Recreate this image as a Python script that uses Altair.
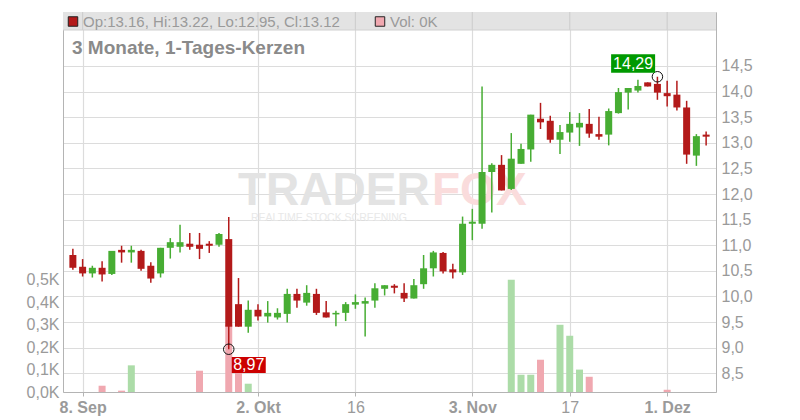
import altair as alt
import pandas as pd

# ---------------- data ----------------
opens = [10.81, 10.58, 10.45, 10.56, 10.44, 10.91, 10.86, 10.89, 10.60, 10.45,
         10.95, 10.97, 11.03, 11.01, 11.03, 11.01, 11.12, 9.85, 9.41, 9.74,
         9.61, 9.59, 9.66, 10.05, 9.88, 10.05, 9.69, 9.65, 9.68, 9.84,
         9.86, 9.92, 10.15, 10.21, 10.07, 9.96, 10.24, 10.55, 10.85, 10.53,
         10.47, 11.42, 11.42, 12.43, 12.57, 12.10, 12.59, 12.87, 13.47, 13.43,
         13.06, 13.20, 13.30, 13.37, 13.17, 13.16, 13.58, 13.98, 14.02, 14.18,
         14.15, 13.97, 13.94, 13.69, 12.75, 13.16]
highs = [10.93, 10.73, 10.60, 10.69, 10.89, 10.99, 10.99, 10.91, 10.67, 10.95,
         11.14, 11.40, 11.24, 11.24, 11.08, 11.24, 11.55, 10.36, 9.92, 9.85,
         9.91, 9.77, 10.15, 10.15, 10.22, 10.15, 9.91, 9.72, 9.89, 10.04,
         9.98, 10.26, 10.22, 10.24, 10.26, 10.34, 10.81, 10.89, 10.87, 10.64,
         11.56, 11.71, 14.10, 12.60, 12.76, 13.19, 12.98, 13.55, 13.78, 13.53,
         13.35, 13.60, 13.58, 13.66, 13.51, 13.67, 14.07, 14.07, 14.23, 14.18,
         14.29, 14.21, 14.21, 13.82, 13.17, 13.22]
lows = [10.52, 10.39, 10.37, 10.29, 10.42, 10.66, 10.66, 10.50, 10.27, 10.37,
        10.74, 10.86, 10.91, 10.73, 10.85, 10.97, 8.97, 9.41, 9.29, 9.53,
        9.49, 9.55, 9.49, 9.78, 9.82, 9.64, 9.59, 9.42, 9.52, 9.76,
        9.22, 9.78, 10.02, 10.06, 9.89, 9.96, 10.15, 10.39, 10.45, 10.35,
        10.42, 11.10, 11.32, 11.64, 12.07, 12.08, 12.59, 12.63, 13.27, 13.00,
        12.78, 13.02, 12.94, 13.10, 13.06, 12.95, 13.57, 13.65, 13.98, 14.10,
        13.84, 13.71, 13.63, 12.59, 12.55, 12.95]
closes = [10.56, 10.45, 10.56, 10.43, 10.89, 10.86, 10.91, 10.54, 10.35, 10.95,
          11.06, 11.06, 10.97, 10.93, 10.99, 11.22, 9.41, 9.41, 9.74, 9.61,
          9.68, 9.68, 10.05, 9.92, 10.07, 9.68, 9.59, 9.68, 9.85, 9.89,
          9.91, 10.16, 10.22, 10.17, 9.96, 10.22, 10.55, 10.86, 10.49, 10.47,
          11.42, 11.46, 12.43, 12.57, 12.07, 12.69, 12.88, 13.55, 13.40, 13.06,
          13.21, 13.37, 13.39, 13.18, 13.12, 13.62, 13.99, 14.07, 14.11, 14.10,
          13.98, 13.91, 13.69, 12.77, 13.13, 13.12]
volumes = [0, 0, 0, 28, 0, 6, 119, 0, 0, 0,
           0, 0, 0, 95, 0, 0, 300, 100, 37, 0,
           0, 0, 0, 0, 0, 0, 0, 0, 0, 0,
           0, 0, 0, 0, 0, 0, 0, 0, 0, 0,
           0, 0, 0, 0, 0, 501, 77, 77, 144, 0,
           300, 251, 100, 68, 0, 0, 0, 0, 0, 0,
           0, 10, 0, 0, 0, 0]

tick_idx = [1, 19, 29, 41, 51, 61]
tick_labels = ["8. Sep", "2. Okt", "16", "3. Nov", "17", "1. Dez"]
bold_idx = [1, 19, 41, 61]
price_ticks = [8.5, 9.0, 9.5, 10.0, 10.5, 11.0, 11.5, 12.0, 12.5, 13.0, 13.5, 14.0, 14.5]
vol_ticks = [0, 100, 200, 300, 400, 500]

title_text = "3 Monate, 1-Tages-Kerzen"

# ---------------- styling ----------------
RED = "#b31a1a"
GREEN = "#47ad33"
VOL_RED = "#f0a8b0"
VOL_GREEN = "#acdca8"
LABEL_GRAY = "#9a9a9a"
GRID = "#dcdcdc"
FRAME = "#b4b4b4"
FONT = "Liberation Sans"

n = len(opens)
df = pd.DataFrame({"i": list(range(n)), "open": opens, "high": highs,
                   "low": lows, "close": closes, "vol": volumes})

lo_i = int(df["low"].idxmin())
hi_i = int(df["high"].idxmax())
lo_df = pd.DataFrame({"i": [lo_i], "p": [lows[lo_i]],
                      "label": [f"{lows[lo_i]:.2f}".replace(".", ",")]})
hi_df = pd.DataFrame({"i": [hi_i], "p": [highs[hi_i]],
                      "label": [f"{highs[hi_i]:.2f}".replace(".", ",")]})

last = df.iloc[-1]
header = (f"Op:{last['open']:.2f}, Hi:{last['high']:.2f}, "
          f"Lo:{last['low']:.2f}, Cl:{last['close']:.2f}")
vol_header = f"Vol: {int(round(last['vol'] / 1000))}K"

ticks_df = pd.DataFrame({"i": tick_idx})
one = pd.DataFrame({"a": [0]})

# ---------------- scales & axes ----------------
x_label_expr = " : ".join(f"datum.value == {v} ? '{l}'" for v, l in zip(tick_idx, tick_labels)) + " : ''"
bold_test = "indexof([" + ",".join(str(v) for v in bold_idx) + "], datum.value) >= 0"

xscale = alt.Scale(domain=[-0.5, n - 0.5], nice=False, zero=False)
xaxis = alt.Axis(values=tick_idx, labelExpr=x_label_expr, grid=True, gridColor=GRID,
                 gridWidth=1.2, tickSize=4, tickColor=FRAME, domainColor=FRAME,
                 labelPadding=3, labelFontSize=16, labelColor=LABEL_GRAY,
                 labelFontWeight={"condition": {"test": bold_test, "value": "bold"}, "value": "normal"},
                 title=None)
X = alt.X("i:Q", scale=xscale, axis=xaxis)

pscale = alt.Scale(domain=[8.135, 15.554], nice=False, zero=False)
paxis = alt.Axis(orient="right", values=price_ticks,
                 labelExpr="replace(format(datum.value, '.1f'), '.', ',')",
                 grid=True, gridColor=GRID, gridWidth=1.2, ticks=False, domainColor=FRAME,
                 labelPadding=5, labelFontSize=16, labelColor=LABEL_GRAY, title=None)

vscale = alt.Scale(domain=[0, 1696], nice=False, zero=True)
vaxis = alt.Axis(orient="left", values=vol_ticks,
                 labelExpr="replace(format(datum.value / 1000, '.1f'), '.', ',') + 'K'",
                 grid=False, ticks=False, domainColor=FRAME,
                 labelPadding=4, labelFontSize=16, labelColor=LABEL_GRAY, title=None)

candle_color = alt.condition("datum.close >= datum.open", alt.value(GREEN), alt.value(RED))
vol_color = alt.condition("datum.close >= datum.open", alt.value(VOL_GREEN), alt.value(VOL_RED))

base = alt.Chart(df)

# ---------------- decorations ----------------
wm_trader = alt.Chart(one).mark_text(text="TRADER", font=FONT, fontSize=46, fontWeight="bold",
                                     color="#e3e3e3", align="left", baseline="alphabetic").encode(
    x=alt.value(175), y=alt.value(193))
wm_fox = alt.Chart(one).mark_text(text="FOX", font=FONT, fontSize=46, fontWeight="bold",
                                  color="#fadcdc", align="left", baseline="alphabetic").encode(
    x=alt.value(369), y=alt.value(193))
wm_sub = alt.Chart(one).mark_text(text="REALTIME STOCK SCREENING", font=FONT, fontSize=10.5,
                                  color="#e8e8e8", align="left", baseline="top").encode(
    x=alt.value(188), y=alt.value(201))

band = alt.Chart(one).mark_rect(color="#e3e3e3").encode(
    x=alt.value(0), x2=alt.value(653), y=alt.value(0), y2=alt.value(18))
band_lines = alt.Chart(ticks_df).mark_rule(color="#cfcfcf", strokeWidth=1.2).encode(
    x=X, y=alt.value(0), y2=alt.value(18))
band_bottom = alt.Chart(one).mark_rule(color="#d0d0d0").encode(
    x=alt.value(0), x2=alt.value(653), y=alt.value(18))
sq_red = alt.Chart(one).mark_point(shape="square", filled=True, size=90, color=RED,
                                   stroke="#222", strokeWidth=1, opacity=1).encode(
    x=alt.value(10), y=alt.value(9.5))
hdr_text = alt.Chart(one).mark_text(text=header, font=FONT, fontSize=15, color=LABEL_GRAY,
                                    align="left", baseline="middle").encode(
    x=alt.value(20), y=alt.value(9.5))
sq_pink = alt.Chart(one).mark_point(shape="square", filled=True, size=90, color="#f0a8b0",
                                    stroke="#222", strokeWidth=1, opacity=1).encode(
    x=alt.value(317), y=alt.value(9.5))
vol_text = alt.Chart(one).mark_text(text=vol_header, font=FONT, fontSize=15, color=LABEL_GRAY,
                                    align="left", baseline="middle").encode(
    x=alt.value(327), y=alt.value(9.5))
title = alt.Chart(one).mark_text(text=title_text, font=FONT, fontSize=19, fontWeight="bold",
                                 color="#8a8a8a", align="left", baseline="alphabetic").encode(
    x=alt.value(9), y=alt.value(42))

# ---------------- volume ----------------
vol_layer = base.transform_filter("datum.vol > 0").mark_bar(size=7).encode(
    x=X, y=alt.Y("vol:Q", scale=vscale, axis=vaxis), color=vol_color)

# ---------------- candles ----------------
wick = base.mark_rule(strokeWidth=1.5).encode(
    x=X, y=alt.Y("low:Q", scale=pscale, axis=paxis), y2="high:Q", color=candle_color)
body = base.mark_bar(size=7).encode(
    x=X, y=alt.Y("open:Q", scale=pscale, axis=paxis), y2="close:Q", color=candle_color)

lo_circle = alt.Chart(lo_df).mark_point(shape="circle", size=110, filled=False, color="#111",
                                        strokeWidth=1, opacity=1).encode(
    x=X, y=alt.Y("p:Q", scale=pscale, axis=paxis))
hi_circle = alt.Chart(hi_df).mark_point(shape="circle", size=110, filled=False, color="#111",
                                        strokeWidth=1, opacity=1).encode(
    x=X, y=alt.Y("p:Q", scale=pscale, axis=paxis))
lo_box = alt.Chart(lo_df).mark_point(shape="M0.3,0.77 L3.7,0.77 L3.7,2.37 L0.3,2.37 Z",
                                     size=400, filled=True, color="#cc0000", opacity=1,
                                     strokeWidth=0).encode(
    x=X, y=alt.Y("p:Q", scale=pscale, axis=paxis))
hi_box = alt.Chart(hi_df).mark_point(shape="M-4.63,-2.24 L-0.23,-2.24 L-0.23,-0.4 L-4.63,-0.4 Z",
                                     size=400, filled=True, color="#009900", opacity=1,
                                     strokeWidth=0).encode(
    x=X, y=alt.Y("p:Q", scale=pscale, axis=paxis))
lo_text = alt.Chart(lo_df).mark_text(font=FONT, fontSize=16, color="white", align="center",
                                     baseline="middle", dx=20, dy=15.7).encode(
    x=X, y=alt.Y("p:Q", scale=pscale, axis=paxis), text="label:N")
hi_text = alt.Chart(hi_df).mark_text(font=FONT, fontSize=16, color="white", align="center",
                                     baseline="middle", dx=-24.3, dy=-12.7).encode(
    x=X, y=alt.Y("p:Q", scale=pscale, axis=paxis), text="label:N")

price_layer = alt.layer(wick, body, lo_circle, hi_circle, lo_box, hi_box, lo_text, hi_text)

chart = alt.layer(
    wm_trader, wm_fox, wm_sub,
    band, band_lines, band_bottom,
    vol_layer, price_layer,
    sq_red, hdr_text, sq_pink, vol_text, title,
).resolve_scale(y="independent").properties(
    width=653, height=380,
    autosize=alt.AutoSizeParams(type="none"),
    padding={"left": 55, "top": 4, "right": 76, "bottom": 28},
).configure_view(stroke=FRAME).configure_axis(labelFont=FONT).configure(font=FONT)

chart.save("out.html", embed_options={"renderer": "svg", "actions": False})
